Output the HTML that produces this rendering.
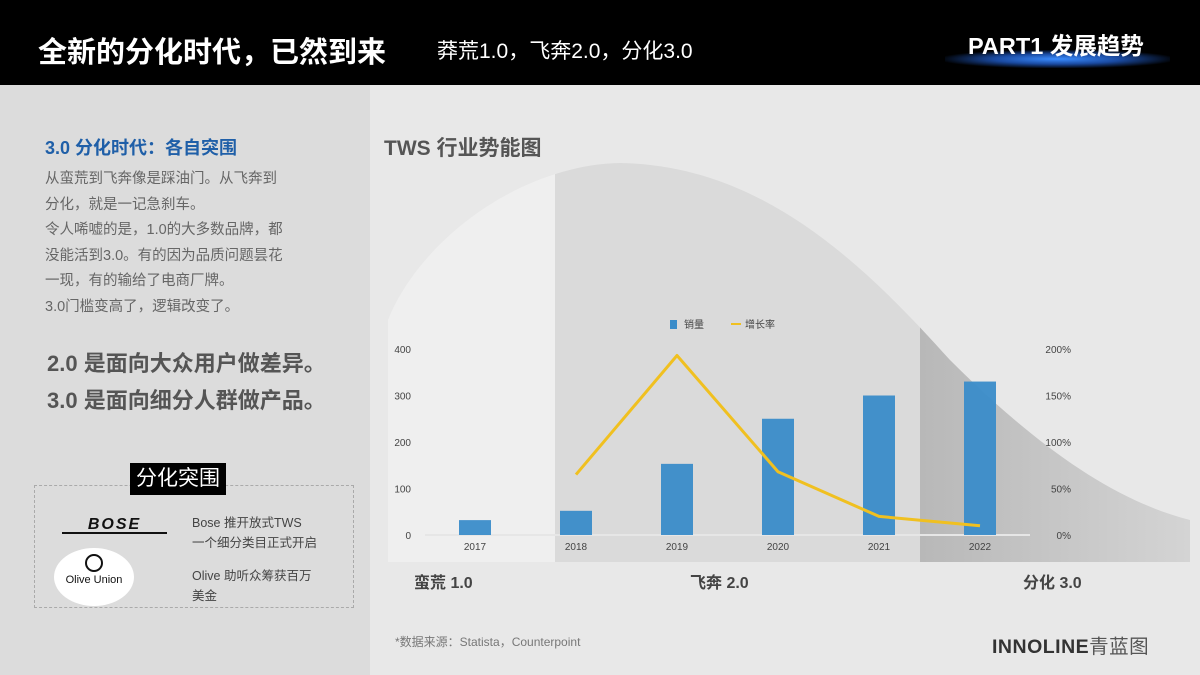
<!DOCTYPE html>
<html><head><meta charset="utf-8">
<style>
body{margin:0;width:1200px;height:675px;overflow:hidden;font-family:"Liberation Sans","Noto Sans CJK SC",sans-serif;background:#e8e8e8;position:relative}
.abs{position:absolute}
</style></head><body>
<div class="abs" style="left:0;top:0;width:1200px;height:85px;background:#000"></div>
<div class="abs" style="left:38px;top:29px;color:#fff;font-size:29px;font-weight:bold;white-space:nowrap">全新的分化时代，已然到来</div>
<div class="abs" style="left:437px;top:35px;color:#fff;font-size:21px;white-space:nowrap">莽荒1.0，飞奔2.0，分化3.0</div>
<div class="abs" style="left:945px;top:50px;width:225px;height:18px;background:radial-gradient(ellipse at center,#3a8cff 0%,#1a4aa0 40%,rgba(0,0,0,0) 75%)"></div>
<div class="abs" style="left:968px;top:27px;color:#fff;font-size:23.5px;font-weight:bold;white-space:nowrap">PART1 发展趋势</div>
<div class="abs" style="left:0;top:85px;width:370px;height:590px;background:#dcdcdc"></div>
<div class="abs" style="left:45px;top:134px;color:#1f5fa8;font-size:18px;font-weight:bold">3.0 分化时代：各自突围</div>
<div class="abs" style="left:45px;top:167px;color:#666;font-size:14.5px;line-height:25.5px;white-space:nowrap">从蛮荒到飞奔像是踩油门。从飞奔到<br>分化，就是一记急刹车。<br>令人唏嘘的是，1.0的大多数品牌，都<br>没能活到3.0。有的因为品质问题昙花<br>一现，有的输给了电商厂牌。<br>3.0门槛变高了，逻辑改变了。</div>
<div class="abs" style="left:47px;top:345px;color:#555;font-size:22px;font-weight:bold;line-height:37px;white-space:nowrap">2.0 是面向大众用户做差异。<br>3.0 是面向细分人群做产品。</div>
<div class="abs" style="left:34px;top:485px;width:318px;height:121px;border:1px dashed #aaa"></div>
<div class="abs" style="left:130px;top:463px;background:#000;color:#fff;font-size:21px;padding:1px 6px;line-height:30px">分化突围</div>
<div class="abs" style="left:62px;top:518px;width:105px;font-style:italic;font-weight:900;font-size:16px;letter-spacing:2px;color:#111;border-bottom:2px solid #111;line-height:14px;text-align:center">BOSE</div>
<div class="abs" style="left:192px;top:513px;font-size:12.5px;color:#444;line-height:20px">Bose 推开放式TWS<br>一个细分类目正式开启</div>
<div class="abs" style="left:54px;top:548px;width:80px;height:58px;border-radius:50%;background:#fff;text-align:center;font-size:11px;color:#111">
<div style="width:14px;height:14px;border:2px solid #111;border-radius:50%;margin:6px auto 2px"></div>Olive Union</div>
<div class="abs" style="left:192px;top:566px;font-size:12.5px;color:#444;line-height:20px">Olive 助听众筹获百万<br>美金</div>
<div class="abs" style="left:384px;top:132px;font-size:21px;font-weight:bold;color:#555;white-space:nowrap">TWS 行业势能图</div>
<svg class="abs" style="left:0;top:0" width="1200" height="675">
<defs>
<clipPath id="bell"><path d="M388,562 L388,320 C420,240 520,165 620,163 C760,165 860,260 950,360 C1030,440 1110,500 1190,520 L1190,562 Z"/></clipPath>
<linearGradient id="dark" x1="0" x2="1"><stop offset="0" stop-color="#b8b8b8"/><stop offset="1" stop-color="#d4d4d4"/></linearGradient>
</defs>
<g clip-path="url(#bell)">
<rect x="388" y="150" width="167" height="420" fill="#efefef"/>
<rect x="555" y="150" width="365" height="420" fill="#dadada"/>
<rect x="920" y="150" width="270" height="420" fill="url(#dark)"/>
</g>
<line x1="425" y1="535" x2="1030" y2="535" stroke="#e6e6e6" stroke-width="2"/>
<g id="marks"></g>
<text x="414" y="588" font-size="16" font-weight="bold" fill="#444">蛮荒 1.0</text>
<text x="690" y="588" font-size="16" font-weight="bold" fill="#444">飞奔 2.0</text>
<text x="1023" y="588" font-size="16" font-weight="bold" fill="#444">分化 3.0</text>
<rect x="670" y="320" width="7" height="9" fill="#3a8cc9"/>
<text x="684" y="328" font-size="10" fill="#444">销量</text>
<line x1="731" y1="324" x2="741" y2="324" stroke="#f0c020" stroke-width="2"/>
<text x="745" y="328" font-size="10" fill="#444">增长率</text>
</svg>
<div class="abs" style="left:395px;top:633px;font-size:12px;color:#777;white-space:nowrap">*数据来源：Statista，Counterpoint</div>
<div class="abs" style="left:992px;top:630px;font-size:19.5px;font-weight:bold;color:#333;letter-spacing:0.5px;white-space:nowrap">INNOLINE<span style="font-weight:normal;color:#555">青蓝图</span></div>
<script>
const years=["2017","2018","2019","2020","2021","2022"];
const sales=[32,52,153,250,300,330];
const growth=[null,65,193,68,20,10];
const leftTicks=[0,100,200,300,400];
const rightTicks=[0,50,100,150,200];
const NS="http://www.w3.org/2000/svg";
const g=document.getElementById('marks');
const x0=425,step=101,y0=535,yTop=349;
const xC=i=>x0+50+i*step;
const yL=v=>y0-(v/400)*(y0-yTop);
const yR=v=>y0-(v/200)*(y0-yTop);
function mk(t,a){const e=document.createElementNS(NS,t);for(const k in a)e.setAttribute(k,a[k]);g.appendChild(e);return e;}
leftTicks.forEach(v=>{const t=mk('text',{x:411,y:yL(v)+4,'font-size':10,fill:'#444','text-anchor':'end'});t.textContent=v;

});
rightTicks.forEach(v=>{const t=mk('text',{x:1071,y:yR(v)+4,'font-size':10,fill:'#444','text-anchor':'end'});t.textContent=v+'%';

});
years.forEach((y,i)=>{const b=mk('rect',{x:xC(i)-16,y:yL(sales[i]),width:32,height:y0-yL(sales[i]),fill:'#3a8cc9',opacity:0.95});


const t=mk('text',{x:xC(i),y:550,'font-size':10,fill:'#444','text-anchor':'middle'});t.textContent=y;

});
const pts=growth.map((v,i)=>v==null?null:xC(i)+','+yR(v)).filter(p=>p);
const pl=mk('polyline',{points:pts.join(' '),fill:'none',stroke:'#f0c020','stroke-width':3,'stroke-linejoin':'round'});


</script>
</body></html>
